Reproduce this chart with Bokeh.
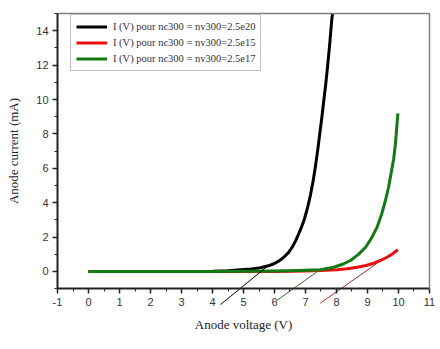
from bokeh.plotting import figure
from bokeh.models import Range1d, FixedTicker, Legend, LegendItem, LinearAxis
from bokeh.embed import file_html
from bokeh.resources import INLINE

# Data (anode voltage V, anode current mA)
v_black = [0, 1, 2, 3, 4, 4.5, 4.9, 5.25, 5.55, 5.8, 5.98, 6.15, 6.3, 6.45, 6.57, 6.68, 6.78,
           6.87, 6.95, 7.02, 7.07, 7.16, 7.24, 7.32, 7.39, 7.46, 7.53, 7.59, 7.65, 7.7, 7.78, 7.84, 7.87]
i_black = [0, 0, 0, 0, 0.02, 0.05, 0.1, 0.15, 0.22, 0.33, 0.45, 0.62, 0.83, 1.1, 1.41, 1.78, 2.19,
           2.58, 2.97, 3.4, 3.74, 4.45, 5.2, 6.1, 7.0, 8.0, 9.0, 9.94, 10.85, 11.7, 13.2, 14.5, 15.0]

v_red = [0, 1, 2, 3, 4, 5, 6, 7, 7.48, 8.02, 8.35, 8.67, 8.95, 9.2, 9.42, 9.63, 9.8, 9.98]
i_red = [0, 0, 0, 0, 0, 0, 0, 0.03, 0.06, 0.1, 0.16, 0.25, 0.35, 0.48, 0.64, 0.83, 1.02, 1.26]

v_green = [0, 1, 2, 3, 4, 5, 6, 6.5, 7, 7.48, 7.91, 8.2, 8.45, 8.7, 8.94, 9.13, 9.31, 9.45,
           9.58, 9.68, 9.76, 9.84, 9.9, 9.98]
i_green = [0, 0, 0, 0, 0, 0.01, 0.03, 0.05, 0.07, 0.1, 0.25, 0.42, 0.64, 0.98, 1.41, 1.95, 2.58, 3.3,
           4.13, 4.9, 5.7, 6.5, 7.4, 9.2]

# tangent lines (extrapolated threshold lines)
tan_black_v = [4.26, 5.75]
tan_black_i = [-1.92, 0.27]
tan_green_v = [6.03, 7.48]
tan_green_i = [-1.74, 0.12]
tan_red_v = [7.48, 9.31]
tan_red_i = [-1.84, 0.48]

labels = ["I (V) pour nc300 = nv300=2.5e20",
          "I (V) pour nc300 = nv300=2.5e15",
          "I (V) pour nc300 = nv300=2.5e17"]

x_ticks = list(range(-1, 12))
y_ticks = list(range(0, 15, 2))
x_min, x_max = -1, 11
y_min, y_max = -1, 15

# canvas-wide frame; axes are pinned at the axis limits
p = figure(width=440, height=349, output_backend="svg", toolbar_location=None,
           x_range=Range1d(-2.839, 11.355), y_range=Range1d(-4.535, 15.756),
           min_border=0, min_border_left=0, min_border_right=0,
           min_border_top=0, min_border_bottom=0)
p.grid.visible = False
p.outline_line_color = None
p.background_fill_color = "white"
p.border_fill_color = "white"

xa = p.below[0]
ya = p.left[0]

# gray frame (top and right)
top_ax = LinearAxis(ticker=FixedTicker(ticks=[]), axis_line_color="#808080", axis_line_width=1.5,
                    major_label_text_font_size="0px", major_label_standoff=0,
                    major_tick_out=0, minor_tick_out=0, bounds=(x_min, x_max),
                    fixed_location=y_max)
right_ax = LinearAxis(ticker=FixedTicker(ticks=[]), axis_line_color="#808080", axis_line_width=1.5,
                      major_label_text_font_size="0px", major_label_standoff=0,
                      major_tick_out=0, minor_tick_out=0, bounds=(y_min, y_max),
                      fixed_location=x_max)
p.add_layout(top_ax, "above")
p.add_layout(right_ax, "right")

r_black = p.line(v_black, i_black, line_color="black", line_width=3, line_join="round")
r_red = p.line(v_red, i_red, line_color="#e81010", line_width=3, line_join="round")
r_green = p.line(v_green, i_green, line_color="#127a12", line_width=3, line_join="round")

p.line(tan_black_v, tan_black_i, line_color="black", line_width=1)
p.line(tan_green_v, tan_green_i, line_color="#2f6b2f", line_width=1)
p.line(tan_red_v, tan_red_i, line_color="#a52a2a", line_width=1)

minor_x = [x + 0.5 for x in range(-1, 11)]
minor_y = list(range(-1, 16, 2))
xa.ticker = FixedTicker(ticks=x_ticks, minor_ticks=minor_x)
ya.ticker = FixedTicker(ticks=y_ticks, minor_ticks=minor_y)
xa.major_label_overrides = {-1: "-1"}
xa.fixed_location = y_min
ya.fixed_location = x_min
xa.bounds = (x_min, x_max)
ya.bounds = (y_min, y_max)

for ax in (xa, ya):
    ax.axis_line_width = 2
    ax.axis_line_color = "#222222"
    ax.major_tick_line_color = "#222222"
    ax.minor_tick_line_color = "#222222"
    ax.major_tick_line_width = 1.5
    ax.major_tick_out = 5
    ax.major_tick_in = 0
    ax.minor_tick_out = 3
    ax.minor_tick_in = 0
    ax.major_label_text_font = "Liberation Sans"
    ax.major_label_text_font_size = "11px"
    ax.major_label_text_color = "#333333"
    ax.axis_label_text_font = "Liberation Serif"
    ax.axis_label_text_font_size = "13px"
    ax.axis_label_text_font_style = "normal"
    ax.axis_label_text_color = "#222222"

xa.axis_label = "Anode voltage (V)"
ya.axis_label = "Anode current (mA)"
xa.major_label_standoff = 4
ya.major_label_standoff = 4
xa.axis_label_standoff = 8
ya.axis_label_standoff = 12

legend = Legend(items=[LegendItem(label=labels[0], renderers=[r_black]),
                       LegendItem(label=labels[1], renderers=[r_red]),
                       LegendItem(label=labels[2], renderers=[r_green])],
                location=(70, 278))
legend.label_text_font = "Liberation Serif"
legend.label_text_font_size = "10.5px"
legend.label_text_color = "#333333"
legend.glyph_width = 31
legend.glyph_height = 13
legend.label_height = 13
legend.spacing = 3
legend.padding = 5
legend.margin = 0
legend.label_standoff = 6
legend.border_line_color = "#808080"
legend.border_line_width = 1
legend.background_fill_alpha = 1
p.add_layout(legend)

open("out.html", "w").write(file_html(p, INLINE))
